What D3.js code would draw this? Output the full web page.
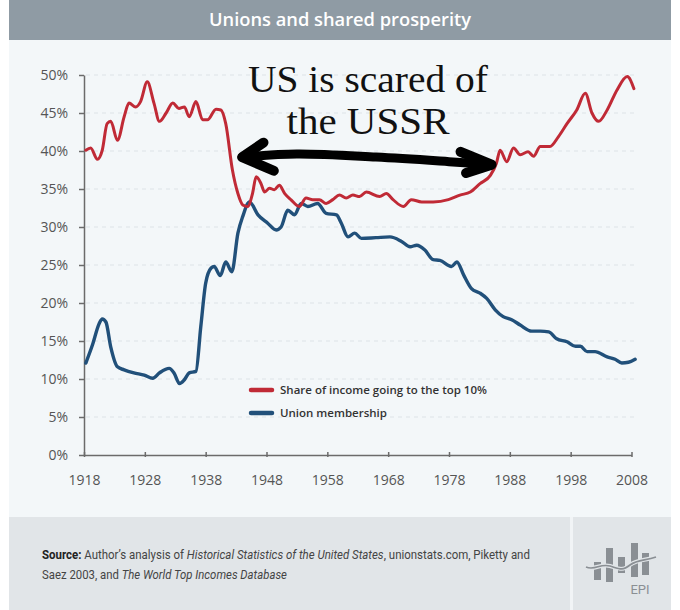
<!DOCTYPE html>
<html>
<head>
<meta charset="utf-8">
<script src="https://cdn.jsdelivr.net/npm/d3@7"></script>
<style>
  html, body { margin: 0; padding: 0; background: #ffffff; }
  svg { display: block; }
</style>
</head>
<body>
<svg id="chart" width="680" height="610"></svg>
<script>
// ---------- DATA ----------
const incomeYears = [1918.3,1919.1,1920.2,1921.0,1921.8,1922.4,1923.5,1924.6,1925.4,1926.5,1927.3,1928.4,1929.5,1930.4,1931.5,1932.6,1933.6,1934.5,1935.3,1936.4,1937.5,1938.3,1939.7,1940.5,1941.3,1942.4,1943.3,1944.1,1944.9,1945.7,1946.3,1947.1,1947.7,1948.5,1949.3,1950.1,1951.0,1952.0,1953.4,1954.5,1955.6,1956.7,1957.8,1958.9,1960.0,1961.1,1962.2,1963.3,1964.4,1966.6,1967.7,1968.8,1970.5,1971.8,1973.5,1975.4,1977.9,1979.8,1981.5,1983.1,1984.8,1985.8,1986.4,1987.5,1988.6,1989.7,1991.0,1991.9,1993.0,1994.6,1996.0,1997.4,1999.0,2000.4,2001.5,2002.6,2004.0,2005.6,2007.3,2008.4];
const incomeShare = [40.1,40.4,38.9,40.1,43.6,43.9,41.4,44.5,46.3,45.8,46.5,49.1,46.3,43.9,45.0,46.3,45.6,45.8,44.5,46.5,44.1,44.1,45.5,45.4,43.6,37.5,34.4,32.9,32.7,34.4,36.6,35.7,34.6,35.1,34.9,35.5,34.4,33.6,32.7,33.8,33.6,33.6,33.1,33.6,34.2,33.8,34.2,34.0,34.6,34.0,34.4,33.6,32.7,33.6,33.3,33.3,33.6,34.2,34.6,35.7,36.8,38.4,40.1,38.6,40.4,39.5,39.9,39.3,40.6,40.6,41.9,43.6,45.4,47.6,45.0,43.9,45.4,48.0,49.8,48.2];

const unionYears = [1918.3,1919.4,1920.5,1921.0,1921.6,1922.4,1923.5,1924.6,1926.2,1927.9,1929.3,1930.4,1932.0,1932.8,1933.7,1934.5,1935.3,1936.4,1937.2,1938.0,1938.9,1939.4,1940.4,1941.3,1942.3,1943.3,1944.1,1945.2,1946.6,1948.2,1949.6,1950.4,1951.5,1952.6,1953.7,1954.8,1956.4,1957.8,1959.5,1960.3,1961.4,1962.5,1963.6,1966.0,1968.3,1970.2,1971.6,1972.7,1974.0,1975.4,1976.5,1978.4,1979.3,1980.4,1981.7,1983.1,1984.2,1985.6,1986.9,1988.3,1989.7,1991.6,1993.0,1994.4,1995.7,1997.4,1998.8,1999.6,2000.7,2002.0,2004.0,2005.3,2006.4,2007.5,2008.6];
const unionRate = [12.1,14.5,17.3,17.9,17.5,14.2,11.6,11.2,10.8,10.5,10.1,10.8,11.4,10.8,9.4,9.9,10.8,11.0,16.9,22.6,24.6,24.8,23.6,25.4,24.1,29.2,31.4,33.3,31.6,30.5,29.6,30.0,32.2,31.6,33.1,32.7,33.1,31.8,31.6,30.5,28.7,29.2,28.5,28.6,28.7,28.1,27.4,27.6,27.0,25.7,25.6,24.8,25.4,23.7,21.9,21.3,20.6,19.1,18.2,17.8,17.1,16.3,16.3,16.2,15.3,14.9,14.3,14.3,13.6,13.6,12.9,12.6,12.1,12.2,12.6];

const xTickYears = [1918,1928,1938,1948,1958,1968,1978,1988,1998,2008];
const yTickValues = [0,5,10,15,20,25,30,35,40,45,50];
const seriesNames = ["Share of income going to the top 10%", "Union membership"];
const titleText = "Unions and shared prosperity";
const annotationLines = ["US is scared of", "the USSR"];
// annotation arrow anchor points, in data space [year, percent]
const arrowShaft = [[1944.0,39.2],[1953,39.6],[1966,39.2],[1978,38.6],[1985.0,38.2]];
const arrowLeftHead = [[1947.5,41.1],[1944.0,39.2],[1949.2,37.4]];
const arrowRightHead = [[1979.9,39.9],[1985.0,38.2],[1980.8,37.1]];
const sourceLine1 = [["Source: ", "bold"], ["Author’s analysis of ", "normal"], ["Historical Statistics of the United States", "italic"], [", unionstats.com, Piketty and", "normal"]];
const sourceLine2 = [["Saez 2003, and ", "normal"], ["The World Top Incomes Database", "italic"]];

// ---------- SETUP ----------
const svg = d3.select("#chart");
const W = 680, H = 610;

// Panels
svg.append("rect").attr("x", 0).attr("y", 0).attr("width", W).attr("height", H).attr("fill", "#ffffff");
svg.append("rect").attr("x", 9).attr("y", 0).attr("width", 662).attr("height", 517).attr("fill", "#f3f7f9");
svg.append("rect").attr("x", 9).attr("y", 0).attr("width", 662).attr("height", 40).attr("fill", "#8f9ba4");
svg.append("rect").attr("x", 9).attr("y", 517).attr("width", 662).attr("height", 93).attr("fill", "#e1e5e8");
svg.append("rect").attr("x", 570).attr("y", 517).attr("width", 3).attr("height", 93).attr("fill", "#f1f4f6");

svg.append("text")
  .attr("x", 340).attr("y", 26)
  .attr("text-anchor", "middle")
  .attr("font-family", "'Open Sans', sans-serif")
  .attr("font-weight", 600)
  .attr("font-size", 18)
  .attr("textLength", 262)
  .attr("lengthAdjust", "spacingAndGlyphs")
  .attr("fill", "#ffffff")
  .text(titleText);

// Scales
const x = d3.scaleLinear().domain([1918, 2008]).range([84, 631.5]);
const y = d3.scaleLinear().domain([0, 50]).range([455, 75]);

// Gridlines
svg.append("g").selectAll("line")
  .data(yTickValues.filter(v => v > 0))
  .join("line")
  .attr("x1", 86).attr("x2", 638)
  .attr("y1", d => y(d)).attr("y2", d => y(d))
  .attr("stroke", "#dde3e7")
  .attr("stroke-width", 1.2)
  .attr("stroke-dasharray", "4,4");

// Y axis
const yAxis = svg.append("g")
  .attr("transform", `translate(${x(1918)},0)`)
  .call(d3.axisLeft(y).tickValues(yTickValues).tickFormat(d => d + "%").tickSize(5).tickSizeOuter(0).tickPadding(11));
yAxis.select(".domain").attr("stroke", "#6b6b6b").attr("stroke-width", 1.5);
yAxis.selectAll(".tick line").attr("stroke", "#6b6b6b").attr("stroke-width", 1.5);
yAxis.selectAll(".tick text")
  .attr("font-family", "'Open Sans', sans-serif")
  .attr("font-size", 14)
  .attr("fill", "#555555");

// X axis
const xAxis = svg.append("g")
  .attr("transform", `translate(0,${y(0)})`)
  .call(d3.axisBottom(x).tickValues(xTickYears).tickFormat(d3.format("d")).tickSize(3).tickSizeOuter(0));
xAxis.select(".domain").attr("stroke", "#6b6b6b").attr("stroke-width", 1.5);
xAxis.selectAll(".tick line").attr("stroke", "#6b6b6b").attr("stroke-width", 1.5).attr("y1", -3).attr("y2", 2);
xAxis.selectAll(".tick text")
  .attr("y", 20)
  .attr("font-family", "'Open Sans', sans-serif")
  .attr("font-size", 14)
  .attr("fill", "#555555");

// Lines
const line = d3.line().x(d => x(d[0])).y(d => y(d[1])).curve(d3.curveMonotoneX);
const unionData = unionYears.map((yr, i) => [yr, unionRate[i]]);
const incomeData = incomeYears.map((yr, i) => [yr, incomeShare[i]]);

svg.append("path")
  .attr("d", line(unionData))
  .attr("fill", "none")
  .attr("stroke", "#21507a")
  .attr("stroke-width", 3.4)
  .attr("stroke-linejoin", "round")
  .attr("stroke-linecap", "round");

svg.append("path")
  .attr("d", line(incomeData))
  .attr("fill", "none")
  .attr("stroke", "#c02a36")
  .attr("stroke-width", 3)
  .attr("stroke-linejoin", "round")
  .attr("stroke-linecap", "round");

// Legend
const legendColors = ["#c02a36", "#21507a"];
const legend = svg.append("g");
seriesNames.forEach((name, i) => {
  const ly = 390 + i * 23;
  legend.append("line")
    .attr("x1", 251).attr("x2", 272).attr("y1", ly).attr("y2", ly)
    .attr("stroke", legendColors[i]).attr("stroke-width", 4.5).attr("stroke-linecap", "round");
  legend.append("text")
    .attr("x", 280).attr("y", ly).attr("dy", "0.35em")
    .attr("font-family", "'Open Sans', sans-serif")
    .attr("font-weight", 600)
    .attr("font-size", 11.5)
    .attr("fill", "#333333")
    .text(name);
});

// Annotation text
const annoWidths = [240, 163];
annotationLines.forEach((t, i) => {
  svg.append("text")
    .attr("x", 368).attr("y", 92 + i * 42)
    .attr("text-anchor", "middle")
    .attr("font-family", "'Liberation Serif', 'DejaVu Serif', serif")
    .attr("font-size", 37)
    .attr("textLength", annoWidths[i])
    .attr("lengthAdjust", "spacingAndGlyphs")
    .attr("fill", "#111111")
    .text(t);
});

// Arrow
const aLine = d3.line().x(d => x(d[0])).y(d => y(d[1])).curve(d3.curveCatmullRom);
svg.append("path")
  .attr("d", aLine(arrowShaft))
  .attr("fill", "none").attr("stroke", "#000").attr("stroke-width", 9)
  .attr("stroke-linecap", "round").attr("stroke-linejoin", "round");
[arrowLeftHead, arrowRightHead].forEach(h => {
  svg.append("path")
    .attr("d", d3.line().x(d => x(d[0])).y(d => y(d[1]))(h))
    .attr("fill", "none").attr("stroke", "#000").attr("stroke-width", 10)
    .attr("stroke-linecap", "round").attr("stroke-linejoin", "round");
});

// Footer source text: segments placed by measured widths, then compressed horizontally
function sourceLine(segments, y0, targetWidth) {
  const g = svg.append("g");
  let cx = 0;
  segments.forEach(([txt, style]) => {
    const t = g.append("text")
      .attr("x", cx).attr("y", 0)
      .style("white-space", "pre")
      .attr("font-family", "'Liberation Sans Narrow', 'Roboto', sans-serif")
      .attr("font-size", 12.5)
      .attr("fill", style === "bold" ? "#222222" : "#444444")
      .attr("font-weight", style === "bold" ? 700 : 400)
      .attr("font-style", style === "italic" ? "italic" : "normal")
      .text(txt);
    cx += t.node().getComputedTextLength();
  });
  const sx = targetWidth / cx;
  g.attr("transform", `translate(42,${y0}) scale(${sx},1)`);
}
sourceLine(sourceLine1, 559, 488);
sourceLine(sourceLine2, 579, 245);

// EPI logo
const logo = svg.append("g").attr("fill", "#8a8f94");
const logoBars = [[594,562,7,18],[606,548,7,34],[618,557,7,16],[631,543,7,34],[642,553,7,22]];
logoBars.forEach(b => logo.append("rect").attr("x", b[0]).attr("y", b[1]).attr("width", b[2]).attr("height", b[3]));
svg.append("path")
  .attr("d", "M586,567 C595,571 600,563 610,566 S622,571 630,565 S645,561 656,557")
  .attr("fill", "none").attr("stroke", "#e1e5e8").attr("stroke-width", 4);
svg.append("path")
  .attr("d", "M586,567 C595,571 600,563 610,566 S622,571 630,565 S645,561 656,557")
  .attr("fill", "none").attr("stroke", "#8a8f94").attr("stroke-width", 1.6);
svg.append("text")
  .attr("x", 640).attr("y", 594)
  .attr("text-anchor", "middle")
  .attr("font-family", "'Liberation Sans Narrow', 'Roboto', sans-serif")
  .attr("font-size", 13)
  .attr("fill", "#8a8f94")
  .text("EPI");
</script>
</body>
</html>
